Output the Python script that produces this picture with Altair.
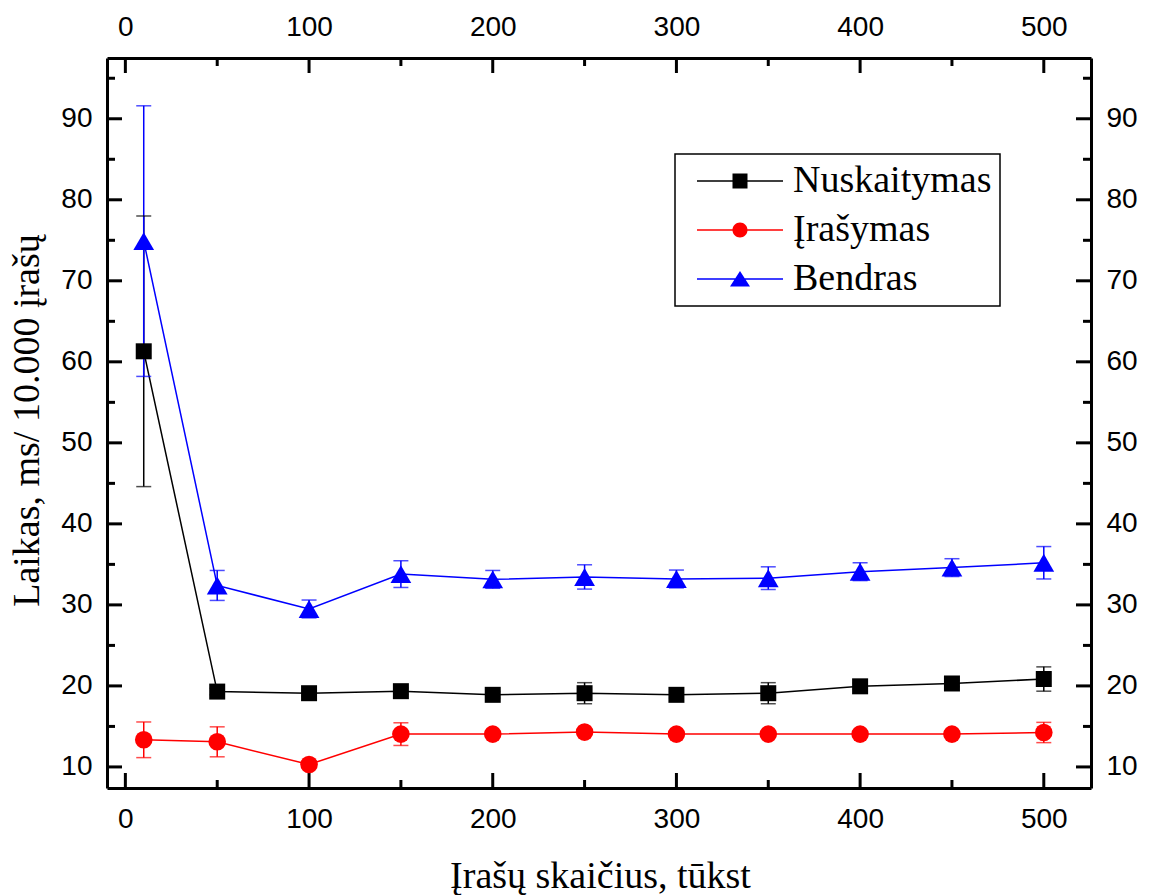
import altair as alt
import pandas as pd

# ---------------- data ----------------
series = ["Nuskaitymas", "Įrašymas", "Bendras"]
colors = ["#000000", "#ff0000", "#0000ff"]

x_vals = [10, 50, 100, 150, 200, 250, 300, 350, 400, 450, 500]

nusk = [61.3, 19.3, 19.1, 19.35, 18.9, 19.1, 18.9, 19.1, 19.95, 20.3, 20.85]
nusk_err = [16.7, 0.4, 0.4, 0.4, 0.4, 1.3, 0.4, 1.3, 0.4, 0.4, 1.5]

iras = [13.35, 13.1, 10.3, 14.05, 14.05, 14.3, 14.05, 14.05, 14.05, 14.05, 14.25]
iras_err = [2.2, 1.85, 0.4, 1.4, 0.4, 0.4, 0.4, 0.4, 0.4, 0.4, 1.25]

bendr = [74.9, 32.4, 29.5, 33.8, 33.15, 33.45, 33.2, 33.3, 34.1, 34.6, 35.2]
bendr_err = [16.7, 1.85, 1.1, 1.65, 1.1, 1.5, 1.1, 1.4, 1.1, 1.1, 2.0]

x_major = [0, 100, 200, 300, 400, 500]
x_minor = [50, 150, 250, 350, 450]
y_major = [10, 20, 30, 40, 50, 60, 70, 80, 90]
y_minor = [15, 25, 35, 45, 55, 65, 75, 85, 95]

x_title = "Įrašų skaičius, tūkst"
y_title = "Laikas, ms/ 10.000 įrašų"

# ---------------- layout / style ----------------
W, H = 984, 730
X_DOM = [-10, 525.7]
Y_DOM = [7.4, 97.5]
SANS = "Liberation Sans"
SERIF = "Liberation Serif"

rows = []
for name, ys, es in zip(series, [nusk, iras, bendr], [nusk_err, iras_err, bendr_err]):
    for x, y, e in zip(x_vals, ys, es):
        rows.append(dict(x=x, y=y, lo=y - e, hi=y + e, key=name, kp=name + " ·"))
df = pd.DataFrame(rows)

pt_keys = [s + " ·" for s in series]
dom = series + pt_keys

legend_paths = [
    "M-4.3,-0.065H4.3V0.065H-4.3Z M-0.75,-0.75H0.75V0.75H-0.75Z",
    "M-4.3,-0.065H4.3V0.065H-4.3Z M-0.75,0A0.75,0.75 0 1,1 0.75,0A0.75,0.75 0 1,1 -0.75,0Z",
    "M-4.3,-0.065H4.3V0.065H-4.3Z M0,-0.8L1,0.75L-1,0.75Z",
]
shape_range = legend_paths + ["square", "circle", "triangle-up"]
color_range = colors + colors
size_range = [256, 310, 430]

xs = alt.Scale(domain=X_DOM, nice=False, zero=False)
ysc = alt.Scale(domain=Y_DOM, nice=False, zero=False)
cs = alt.Scale(domain=dom, range=color_range)
ss = alt.Scale(domain=dom, range=shape_range)
szs = alt.Scale(type="ordinal", domain=pt_keys, range=size_range)

leg = alt.Legend(
    title=None, values=series, orient="none", legendX=568, legendY=96,
    direction="vertical", strokeColor="black", fillColor="white",
    padding=8,
    labelFont=SERIF, labelFontSize=38, labelColor="black", labelLimit=500,
    symbolSize=400, symbolOffset=38, labelOffset=34, rowPadding=11,
    symbolStrokeWidth=0,
)

base = alt.Chart(df)
X = alt.X("x:Q", scale=xs, axis=None)
Y = alt.Y("y:Q", scale=ysc, axis=None)

lines = base.mark_line(strokeWidth=1.5).encode(
    x=X, y=Y, color=alt.Color("key:N", scale=cs, legend=None)
)
errs = base.mark_rule(strokeWidth=1.5).encode(
    x=X, y=alt.Y("lo:Q", scale=ysc, axis=None), y2="hi:Q",
    color=alt.Color("key:N", scale=cs, legend=None),
)
caps_lo = base.mark_tick(orient="horizontal", size=15, thickness=1.5).encode(
    x=X, y=alt.Y("lo:Q", scale=ysc, axis=None),
    color=alt.Color("key:N", scale=cs, legend=None),
)
caps_hi = base.mark_tick(orient="horizontal", size=15, thickness=1.5).encode(
    x=X, y=alt.Y("hi:Q", scale=ysc, axis=None),
    color=alt.Color("key:N", scale=cs, legend=None),
)
points = base.mark_point(filled=True, opacity=1, strokeWidth=0).encode(
    x=X, y=Y,
    color=alt.Color("kp:N", scale=cs, legend=leg),
    shape=alt.Shape("kp:N", scale=ss, legend=leg),
    size=alt.Size("kp:N", scale=szs, legend=None),
)

axis_common = dict(
    ticks=False, grid=False, domain=True, domainColor="black", domainWidth=3,
    labelFont=SANS, labelFontSize=28, labelColor="black", format="d",
    labelFlush=False, labelOverlap=False,
)
ax_bottom = alt.Axis(
    orient="bottom", values=x_major, labelPadding=17, title=x_title,
    titleFont=SERIF, titleFontSize=38, titleFontWeight="normal", titleColor="black",
    titleX=493, titleY=99, titleBaseline="alphabetic", **axis_common,
)
ax_top = alt.Axis(orient="top", values=x_major, labelPadding=17, title=None, **axis_common)
ax_left = alt.Axis(
    orient="left", values=y_major, labelPadding=15, title=y_title,
    titleFont=SERIF, titleFontSize=38, titleFontWeight="normal", titleColor="black",
    titleX=-69, titleY=362, titleAngle=270, titleBaseline="alphabetic", **axis_common,
)
ax_right = alt.Axis(orient="right", values=y_major, labelPadding=15, title=None, **axis_common)


def xticks(vals, side, length, axis):
    d = pd.DataFrame({"v": vals})
    y0 = H if side == "bottom" else 0
    y1 = H - length if side == "bottom" else length
    return alt.Chart(d).mark_rule(color="black", strokeWidth=3, strokeCap="butt").encode(
        x=alt.X("v:Q", scale=xs, axis=axis), y=alt.value(y0), y2=alt.value(y1)
    )


def yticks(vals, side, length, axis):
    d = pd.DataFrame({"v": vals})
    x0 = 0 if side == "left" else W
    x1 = length if side == "left" else W - length
    return alt.Chart(d).mark_rule(color="black", strokeWidth=3, strokeCap="butt").encode(
        y=alt.Y("v:Q", scale=ysc, axis=axis), x=alt.value(x0), x2=alt.value(x1)
    )


tick_layers = [
    xticks(x_major, "bottom", 15, ax_bottom),
    xticks(x_minor, "bottom", 8, None),
    xticks(x_major, "top", 15, ax_top),
    xticks(x_minor, "top", 8, None),
    yticks(y_major, "left", 15, ax_left),
    yticks(y_minor, "left", 8, None),
    yticks(y_major, "right", 15, ax_right),
    yticks(y_minor, "right", 8, None),
]

chart = alt.layer(
    *tick_layers, lines, errs, caps_lo, caps_hi, points
).resolve_axis(
    x="independent", y="independent"
).resolve_scale(
    color="independent", shape="independent", size="independent"
).properties(
    width=W, height=H,
    padding={"left": 107, "top": 58, "right": 63, "bottom": 107},
    autosize=alt.AutoSizeParams(type="none"),
    background="white",
).configure_view(stroke=None).configure_legend(strokeWidth=1.5)

chart.save("out.html", embed_options={"renderer": "svg", "actions": False})
